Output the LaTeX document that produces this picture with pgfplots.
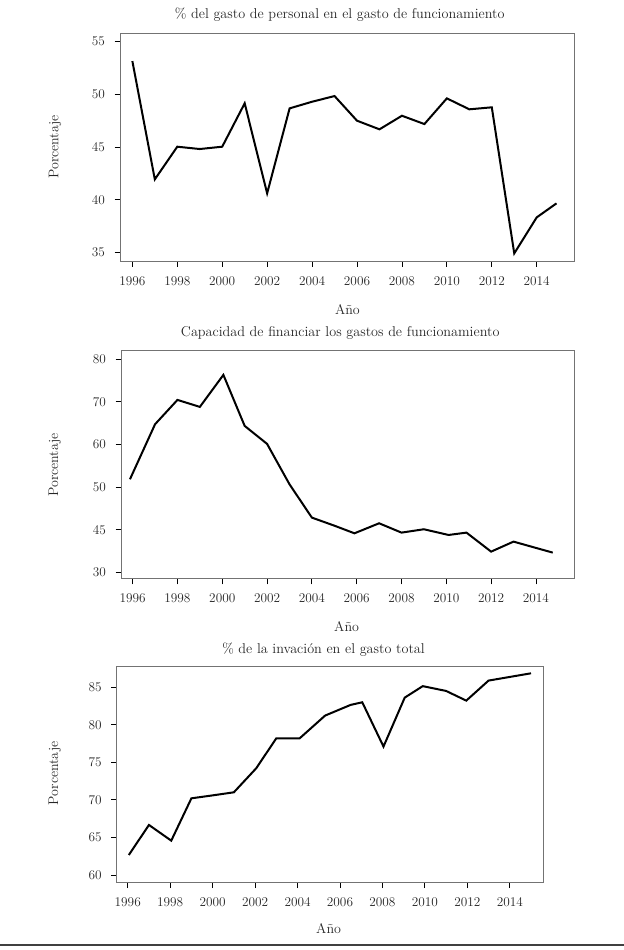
\documentclass[border=0pt]{standalone}
\usepackage{fontspec}
\usepackage{pgfplots}
\pgfplotsset{compat=1.18}
\usepackage{pgfplotstable}

\pgfplotstableread{
x y
1996 53.16
1997 41.93
1998 45.03
1999 44.81
2000 45.03
2001 49.15
2002 40.60
2003 48.67
2004 49.30
2005 49.84
2006 47.50
2007 46.68
2008 47.97
2009 47.18
2010 49.62
2011 48.58
2012 48.77
2013 34.90
2014 38.32
2014.88 39.65
}\dataA

\pgfplotstableread{
x y
1995.88 51.83
1997 64.74
1998 70.45
1999 68.81
2000.05 76.32
2001 64.35
2002 60.13
2003 50.66
2004 42.83
2005 40.95
2005.9 39.15
2007 41.50
2008 39.31
2009 40.10
2010.1 38.76
2010.9 39.31
2012 34.85
2013 37.20
2013.9 35.87
2014.75 34.62
}\dataB

\pgfplotstableread{
x y
1996.05 62.66
1997 66.66
1998.05 64.57
1999 70.21
2000 70.60
2001 71.01
2002.05 74.20
2003 78.20
2004.1 78.20
2005.3 81.23
2006.5 82.65
2007.05 83.00
2008.05 77.10
2009.05 83.62
2009.9 85.15
2011.0 84.51
2011.95 83.22
2013.0 85.89
2015.0 86.86
}\dataC

\pgfplotsset{
  myaxis/.style={
    scale only axis,
    anchor=south west,
    axis line style={draw=black!55, line width=1bp},
    every tick/.style={black, line width=0.8bp},
    tick align=outside,
    major tick length=5.5bp,
    xtick pos=left, ytick pos=left,
    xtick={1996,1998,...,2014},
    /pgf/number format/assume math mode=true,
    x tick label style={/pgf/number format/1000 sep={}, yshift=-6bp},
    y tick label style={xshift=-6bp},
    tick label style={font=\fontsize{13.3bp}{15bp}\selectfont, text=black!85},
    label style={font=\fontsize{14bp}{16bp}\selectfont, text=black!85},
    title style={font=\fontsize{14.2bp}{16bp}\selectfont, text=black!85, yshift=-6pt},
    xlabel={Año}, ylabel={Porcentaje},
  },
  myline/.style={black, line width=2bp, no markers},
}

\begin{document}
\begin{tikzpicture}[x=1bp,y=1bp]
\useasboundingbox (0,0) rectangle (624,950);

\begin{axis}[myaxis,
  at={(120bp,688.7bp)}, width=454bp, height=228bp,
  xmin=1995.45, xmax=2015.66, ymin=34.15, ymax=55.8,
  ytick={35,40,...,55},
  title={\% del gasto de personal en el gasto de funcionamiento},
  title style={at={(axis description cs:0.484,1.080)}, anchor=center},
  xlabel style={at={(axis description cs:0.501,-0.2136)}, anchor=center},
  ylabel style={at={(axis description cs:-0.143,0.501)}, anchor=center},
]
\addplot[myline] table[x=x,y=y] {\dataA};
\end{axis}

\begin{axis}[myaxis,
  at={(121bp,371bp)}, width=453bp, height=228.3bp,
  xmin=1995.48, xmax=2015.70, ymin=28.43, ymax=82.0,
  ytick={30,40,...,80},
  yticklabels={30,45,50,60,70,80},
  title={Capacidad de financiar los gastos de funcionamiento},
  title style={at={(axis description cs:0.484,1.076)}, anchor=center},
  xlabel style={at={(axis description cs:0.498,-0.209)}, anchor=center},
  ylabel style={at={(axis description cs:-0.146,0.499)}, anchor=center},
]
\addplot[myline] table[x=x,y=y] {\dataB};
\end{axis}

\begin{axis}[myaxis,
  at={(116.7bp,67.3bp)}, width=426.4bp, height=216bp,
  xmin=1995.48, xmax=2015.57, ymin=58.97, ymax=87.74,
  ytick={60,65,...,85},
  title={\% de la invación en el gasto total},
  title style={at={(axis description cs:0.485,1.077)}, anchor=center},
  xlabel style={at={(axis description cs:0.497,-0.211)}, anchor=center},
  ylabel style={at={(axis description cs:-0.145,0.506)}, anchor=center},
]
\addplot[myline] table[x=x,y=y] {\dataC};
\end{axis}

\draw[black!75, line width=1.3bp] (0,5) -- (624,5);
\end{tikzpicture}
\end{document}
